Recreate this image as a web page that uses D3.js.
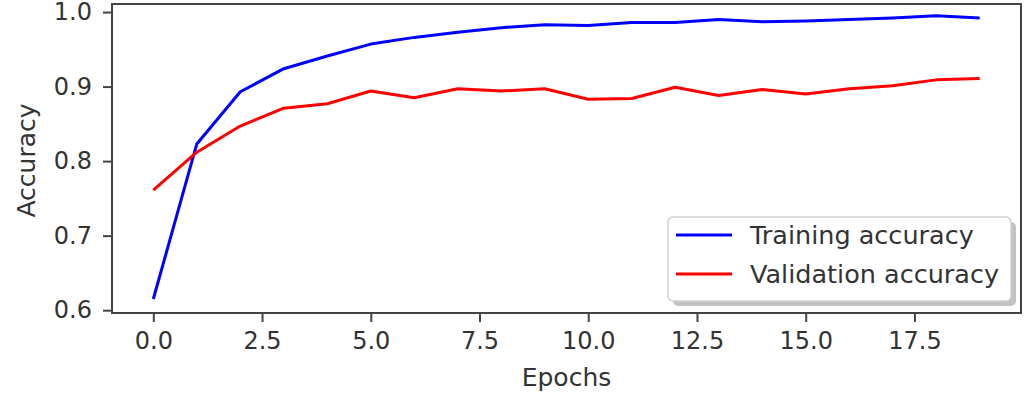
<!DOCTYPE html>
<html>
<head>
<meta charset="utf-8">
<script src="https://cdn.jsdelivr.net/npm/d3@7"></script>
<style>
  body { margin: 0; background: #fff; }
  text { font-family: "DejaVu Sans", sans-serif; fill: #333; }
</style>
</head>
<body>
<svg id="chart"></svg>
<script>
// values
var epochs = d3.range(0, 20);
var trainAcc = [0.615, 0.823, 0.893, 0.924, 0.941, 0.957, 0.966, 0.973, 0.979, 0.983,
                0.982, 0.986, 0.986, 0.990, 0.987, 0.988, 0.990, 0.992, 0.995, 0.992];
var valAcc = [0.761, 0.812, 0.847, 0.871, 0.877, 0.894, 0.885, 0.897, 0.894, 0.897,
              0.883, 0.884, 0.899, 0.888, 0.896, 0.890, 0.897, 0.901, 0.909, 0.911];
var xTicks = [0, 2.5, 5, 7.5, 10, 12.5, 15, 17.5];
var yTicks = [0.6, 0.7, 0.8, 0.9, 1.0];
var seriesNames = ["Training accuracy", "Validation accuracy"];
var seriesColors = ["#0000ff", "#ff0000"];

var width = 1024, height = 399;
var margin = { top: 4, right: 3, bottom: 86, left: 112 };
var w = width - margin.left - margin.right,
    h = height - margin.top - margin.bottom;

var svg = d3.select("#chart")
    .attr("width", width)
    .attr("height", height);

var g = svg.append("g")
    .attr("transform", "translate(" + margin.left + "," + margin.top + ")");

// matplotlib style 5% margins
var x = d3.scaleLinear().domain([-0.95, 19.95]).range([0, w]);
var y = d3.scaleLinear().domain([0.5962, 1.0108]).range([h, 0]);

var line = d3.line()
    .x(function(d, i) { return x(epochs[i]); })
    .y(function(d) { return y(d); });

[trainAcc, valAcc].forEach(function(s, k) {
  g.append("path")
      .datum(s)
      .attr("fill", "none")
      .attr("stroke", seriesColors[k])
      .attr("stroke-width", 3)
      .attr("stroke-linejoin", "round")
      .attr("d", line);
});

// axes
var xAxis = g.append("g")
    .attr("transform", "translate(0," + h + ")")
    .call(d3.axisBottom(x).tickValues(xTicks).tickFormat(d3.format(".1f"))
      .tickSize(9).tickPadding(10).tickSizeOuter(0));

var yAxis = g.append("g")
    .call(d3.axisLeft(y).tickValues(yTicks).tickFormat(d3.format(".1f"))
      .tickSize(9).tickPadding(11).tickSizeOuter(0));

[xAxis, yAxis].forEach(function(a) {
  a.selectAll("text").style("font-size", "24px").style("fill", "#333");
  a.selectAll("line").attr("stroke", "#444").attr("stroke-width", 2);
  a.select(".domain").remove();
});

// frame (all four spines)
g.append("rect")
    .attr("x", 0).attr("y", 0)
    .attr("width", w).attr("height", h)
    .attr("fill", "none")
    .attr("stroke", "#444")
    .attr("stroke-width", 2);

// axis labels
svg.append("text")
    .attr("x", margin.left + w / 2)
    .attr("y", 386)
    .attr("text-anchor", "middle")
    .style("font-size", "25px")
    .text("Epochs");

svg.append("text")
    .attr("transform", "translate(35," + (margin.top + h / 2 + 2) + ") rotate(-90)")
    .attr("text-anchor", "middle")
    .style("font-size", "25px")
    .text("Accuracy");

// legend
var lg = svg.append("g").attr("transform", "translate(668,217)");
lg.append("rect")
    .attr("x", 5).attr("y", 5)
    .attr("width", 343).attr("height", 84)
    .attr("rx", 5)
    .attr("fill", "#9a9a9a")
    .attr("opacity", 0.6);
lg.append("rect")
    .attr("width", 343).attr("height", 84)
    .attr("rx", 5)
    .attr("fill", "#fff")
    .attr("stroke", "#d0d0d0")
    .attr("stroke-width", 1.5);

seriesNames.forEach(function(name, k) {
  var yy = 18 + k * 39;
  lg.append("line")
      .attr("x1", 8).attr("x2", 64)
      .attr("y1", yy).attr("y2", yy)
      .attr("stroke", seriesColors[k])
      .attr("stroke-width", 3);
  lg.append("text")
      .attr("x", 82)
      .attr("y", yy)
      .attr("dy", "0.35em")
      .style("font-size", "25.5px")
      .text(name);
});
</script>
</body>
</html>
